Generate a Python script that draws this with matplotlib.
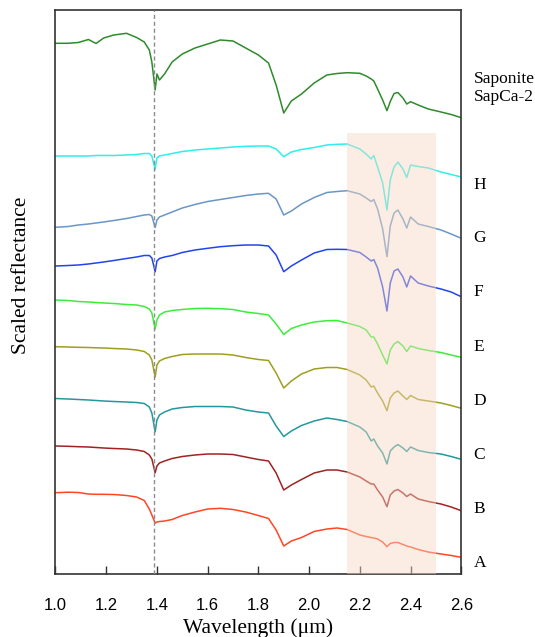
import numpy as np
import matplotlib
matplotlib.use('Agg')
import matplotlib.pyplot as plt
import matplotlib.transforms as mtransforms

# wavelength grid (um) shared by all spectra
wavelength = [1.00, 1.05, 1.09, 1.13, 1.16, 1.19, 1.23, 1.28, 1.32, 1.35,
              1.37, 1.38, 1.393, 1.40, 1.41, 1.43, 1.46, 1.50, 1.55, 1.60,
              1.65, 1.70, 1.75, 1.80, 1.84, 1.87, 1.90, 1.93, 1.97, 2.02,
              2.07, 2.11, 2.15, 2.20, 2.225, 2.245, 2.255, 2.27, 2.29, 2.307,
              2.32, 2.335, 2.35, 2.37, 2.385, 2.40, 2.43, 2.47, 2.52, 2.56, 2.60]

# scaled reflectance, offset for display
saponite = [5.307, 5.307, 5.315, 5.345, 5.305, 5.36, 5.39, 5.407, 5.365, 5.32,
            5.24, 5.12, 4.84, 5.00, 4.94, 5.00, 5.12, 5.20, 5.26, 5.30,
            5.34, 5.33, 5.26, 5.19, 5.11, 4.89, 4.61, 4.73, 4.80, 4.91,
            4.99, 5.005, 5.013, 5.007, 4.98, 4.95, 4.93, 4.85, 4.74, 4.633,
            4.725, 4.805, 4.815, 4.76, 4.70, 4.723, 4.69, 4.65, 4.62, 4.595, 4.563]
spec_H = [4.18, 4.18, 4.18, 4.18, 4.185, 4.185, 4.185, 4.19, 4.195, 4.205,
          4.205, 4.18, 4.045, 4.16, 4.18, 4.19, 4.205, 4.225, 4.24, 4.25,
          4.26, 4.27, 4.277, 4.28, 4.28, 4.25, 4.173, 4.22, 4.245, 4.265,
          4.29, 4.297, 4.30, 4.25, 4.20, 4.15, 4.185, 4.07, 3.91, 3.64,
          3.94, 4.07, 4.12, 4.05, 3.965, 4.09, 4.075, 4.06, 4.02, 3.995, 3.97]
spec_G = [3.467, 3.475, 3.49, 3.50, 3.51, 3.52, 3.535, 3.555, 3.575, 3.59,
          3.595, 3.58, 3.465, 3.54, 3.57, 3.59, 3.62, 3.66, 3.695, 3.725,
          3.745, 3.765, 3.785, 3.80, 3.807, 3.75, 3.59, 3.63, 3.70, 3.765,
          3.815, 3.825, 3.833, 3.80, 3.76, 3.725, 3.745, 3.65, 3.45, 3.173,
          3.48, 3.61, 3.64, 3.55, 3.46, 3.57, 3.50, 3.475, 3.44, 3.40, 3.357]
spec_F = [3.08, 3.085, 3.09, 3.10, 3.11, 3.12, 3.135, 3.155, 3.17, 3.185,
          3.185, 3.16, 3.023, 3.13, 3.155, 3.17, 3.185, 3.215, 3.24, 3.257,
          3.273, 3.283, 3.29, 3.29, 3.28, 3.19, 3.023, 3.08, 3.14, 3.21,
          3.245, 3.247, 3.245, 3.215, 3.17, 3.13, 3.145, 3.06, 2.87, 2.63,
          2.91, 3.03, 3.05, 2.97, 2.87, 2.98, 2.91, 2.88, 2.85, 2.82, 2.773]
spec_E = [2.74, 2.735, 2.725, 2.72, 2.715, 2.71, 2.705, 2.695, 2.69, 2.675,
          2.65, 2.61, 2.45, 2.54, 2.59, 2.62, 2.635, 2.645, 2.655, 2.657,
          2.653, 2.645, 2.62, 2.605, 2.59, 2.50, 2.395, 2.455, 2.49, 2.52,
          2.533, 2.535, 2.51, 2.475, 2.44, 2.37, 2.37, 2.30, 2.19, 2.10,
          2.24, 2.30, 2.325, 2.28, 2.225, 2.28, 2.255, 2.235, 2.215, 2.19, 2.167]
spec_D = [2.273, 2.27, 2.267, 2.265, 2.262, 2.26, 2.255, 2.25, 2.24, 2.225,
          2.19, 2.14, 1.97, 2.09, 2.13, 2.155, 2.175, 2.195, 2.20, 2.20,
          2.20, 2.19, 2.165, 2.145, 2.135, 2.01, 1.86, 1.93, 2.00, 2.05,
          2.065, 2.065, 2.045, 1.99, 1.94, 1.87, 1.88, 1.81, 1.73, 1.633,
          1.76, 1.81, 1.83, 1.78, 1.745, 1.785, 1.745, 1.73, 1.71, 1.685, 1.657]
spec_C = [1.755, 1.75, 1.745, 1.74, 1.735, 1.73, 1.725, 1.72, 1.715, 1.705,
          1.67, 1.61, 1.423, 1.54, 1.59, 1.62, 1.65, 1.665, 1.675, 1.675,
          1.675, 1.67, 1.64, 1.62, 1.61, 1.48, 1.375, 1.43, 1.485, 1.53,
          1.56, 1.545, 1.525, 1.47, 1.42, 1.33, 1.35, 1.28, 1.21, 1.10,
          1.23, 1.27, 1.295, 1.26, 1.225, 1.27, 1.235, 1.215, 1.20, 1.175, 1.147]
spec_B = [1.28, 1.277, 1.273, 1.27, 1.265, 1.26, 1.255, 1.25, 1.24, 1.225,
          1.19, 1.15, 1.013, 1.08, 1.11, 1.13, 1.155, 1.175, 1.19, 1.20,
          1.20, 1.195, 1.17, 1.145, 1.13, 1.01, 0.84, 0.89, 0.945, 1.01,
          1.04, 1.04, 1.02, 0.97, 0.93, 0.90, 0.90, 0.84, 0.77, 0.673,
          0.79, 0.83, 0.845, 0.81, 0.775, 0.80, 0.75, 0.725, 0.70, 0.67, 0.633]
spec_A = [0.813, 0.818, 0.815, 0.80, 0.797, 0.797, 0.795, 0.785, 0.77, 0.735,
          0.65, 0.59, 0.51, 0.52, 0.525, 0.53, 0.545, 0.585, 0.62, 0.65,
          0.657, 0.645, 0.62, 0.585, 0.555, 0.44, 0.28, 0.33, 0.365, 0.425,
          0.45, 0.46, 0.445, 0.39, 0.375, 0.365, 0.36, 0.35, 0.32, 0.273,
          0.305, 0.315, 0.315, 0.295, 0.28, 0.27, 0.245, 0.22, 0.20, 0.185, 0.167]

spectra = [saponite, spec_H, spec_G, spec_F, spec_E, spec_D, spec_C, spec_B, spec_A]
labels = ['Saponite\nSapCa-2', 'H', 'G', 'F', 'E', 'D', 'C', 'B', 'A']
colors = ['#2E8B2A', '#2EEEEE', '#6A96C8', '#2244EE', '#3AEE3A',
          '#9E9E22', '#22989E', '#A02222', '#FF4626']
label_y = [4.86, 3.89, 3.36, 2.82, 2.27, 1.73, 1.19, 0.65, 0.11]

fig = plt.figure(figsize=(5.35, 6.37), dpi=100)
ax = fig.add_axes([0.1037, 0.0989, 0.7585, 0.8854])

for vals, c in zip(spectra, colors):
    ax.plot(wavelength, vals, color=c, lw=1.1, zorder=2)

# highlighted 2.15-2.5 um region
ax.axvspan(2.15, 2.50, ymin=0, ymax=0.782, color='#F8D9C3', alpha=0.45,
           lw=0, zorder=3)
ax.axvline(1.39, color='#8c8c8c', ls=(0, (3, 2)), lw=1, zorder=4)

for lab, y in zip(labels, label_y):
    ax.text(1.03, y, lab, transform=ax.get_yaxis_transform(),
            fontfamily='Liberation Serif', fontsize=12.5, va='center', ha='left')

ax.set_xlim(1.0, 2.6)
ax.set_ylim(0, 5.64)
ticks = np.arange(1.0, 2.61, 0.2)
ax.set_xticks(ticks)
ax.set_xticklabels(['%.1f' % t for t in ticks],
                   fontfamily='Liberation Sans', fontsize=12)
shift = mtransforms.ScaledTranslation(5 / 100, 0, fig.dpi_scale_trans)
for lbl in ax.get_xticklabels():
    lbl.set_transform(lbl.get_transform() + shift)
ax.set_yticks([])
ax.tick_params(axis='x', direction='in', length=6, width=1, pad=17, color='#333333')
for sp in ax.spines.values():
    sp.set_color('#333333')
    sp.set_linewidth(1.2)

ax.set_xlabel('Wavelength (\u03bcm)', fontfamily='Liberation Serif', fontsize=15.5, labelpad=4)
ax.set_ylabel('Scaled reflectance', fontfamily='Liberation Serif', fontsize=15.5)
ax.yaxis.set_label_coords(-0.06, 0.53)

fig.savefig('out.png', dpi=100)
